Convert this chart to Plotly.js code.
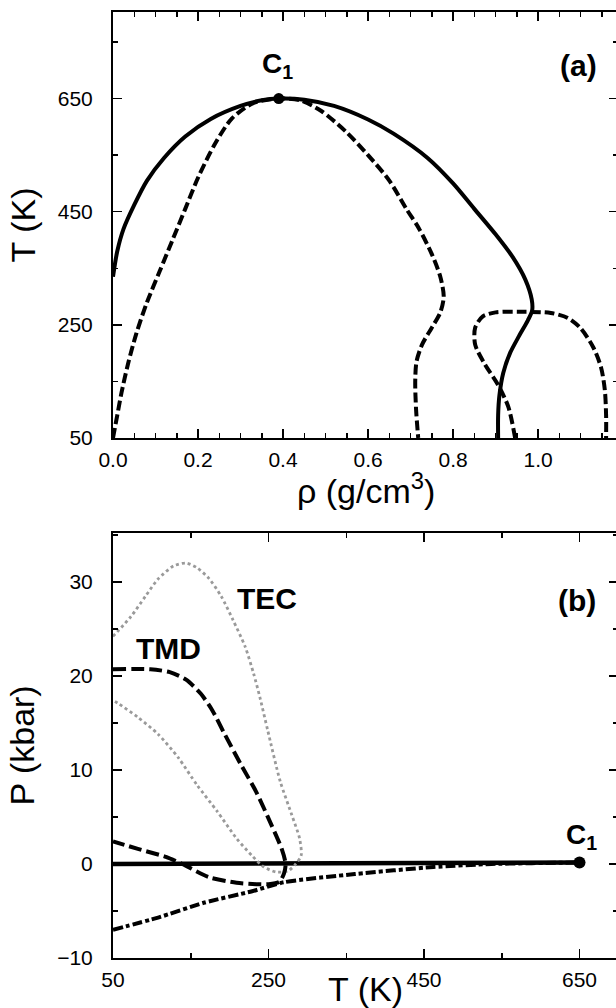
<!DOCTYPE html>
<html>
<head>
<meta charset="utf-8">
<script src="https://cdn.plot.ly/plotly-3.0.1.min.js"></script>
<style>
html,body{margin:0;padding:0;overflow:hidden;background:#fff;}
#chart{width:622px;height:1008px;}
</style>
</head>
<body>
<div id="chart"></div>
<script>
// ---------- Panel (a): T vs density ----------
const coexRho = [0, 0.01, 0.025, 0.05, 0.08, 0.12, 0.17, 0.23, 0.3, 0.35, 0.39, 0.45, 0.52, 0.6, 0.66, 0.74, 0.8, 0.85, 0.9, 0.94, 0.97, 0.985, 0.986, 0.976, 0.955, 0.934, 0.918, 0.909, 0.906, 0.906];
const coexT   = [335, 380, 420, 462, 505, 545, 583, 614, 637, 647, 650, 648, 637, 613, 588, 545, 500, 455, 410, 370, 330, 295, 275, 258, 230, 200, 165, 125, 90, 50];

const spinRho = [0, 0.01, 0.02, 0.035, 0.055, 0.08, 0.11, 0.14, 0.17, 0.2, 0.24, 0.28, 0.33, 0.39, 0.44, 0.49, 0.55, 0.6, 0.65, 0.69, 0.72, 0.75, 0.77, 0.778, 0.77, 0.75, 0.727, 0.714, 0.711, 0.713, 0.718];
const spinT   = [50, 90, 130, 180, 235, 290, 345, 400, 455, 510, 570, 615, 642, 650, 647, 628, 590, 550, 505, 455, 420, 375, 335, 300, 272, 245, 215, 185, 150, 100, 50];

const loopRho = [0.946, 0.93, 0.905, 0.875, 0.852, 0.852, 0.87, 0.9, 0.96, 1.03, 1.07, 1.1, 1.13, 1.148, 1.157, 1.16, 1.16];
const loopT   = [50, 105, 145, 180, 215, 245, 265, 272, 273, 271, 262, 244, 210, 175, 135, 90, 50];

const critRho = [0.39];
const critT   = [650];

// ---------- Panel (b): P vs T ----------
const tmdT = [50, 98, 123, 144, 163, 178, 193, 215, 234, 254, 267, 272, 270, 264, 250, 234, 209, 173, 139, 118, 82, 50];
const tmdP = [20.7, 20.7, 20.4, 19.6, 18.1, 16.3, 13.9, 10.5, 7.7, 4.1, 1.6, 0, -1.0, -1.9, -2.15, -2.15, -2.0, -1.4, 0, 0.75, 1.6, 2.4];

const tecT = [50, 73, 92, 108, 128, 144, 158, 173, 189, 204, 220, 231, 239, 249, 265, 280, 290, 292, 285, 275, 260, 244, 229, 209, 184, 158, 134, 108, 82, 58, 50];
const tecP = [24.2, 26.3, 28.5, 30.3, 31.7, 32.0, 31.5, 30.4, 28.5, 26.0, 23.1, 20.2, 17.7, 14.2, 8.8, 5.2, 2.7, 0.9, 0, -0.75, -0.86, -0.32, 0.86, 2.7, 5.6, 8.4, 11.3, 13.8, 15.6, 17.0, 17.4];

const lspT = [50, 108, 168, 229, 270, 361, 462, 537, 644, 650];
const lspP = [-7.0, -5.7, -4.1, -2.9, -1.94, -1.07, -0.32, 0, 0.15, 0.15];

const coexBT = [50, 250, 450, 650];
const coexBP = [0, 0.05, 0.1, 0.15];

const critBT = [650];
const critBP = [0.15];

// tick labels
const rhoTicks = [0, 0.2, 0.4, 0.6, 0.8, 1.0];
const tTicksA = [50, 250, 450, 650];
const tTicksB = [50, 250, 450, 650];
const pTicks = [-10, 0, 10, 20, 30];

const blk = '#000';
const FF = 'Liberation Sans, Arial, Helvetica, sans-serif';
const traces = [
  {x: coexRho, y: coexT, xaxis:'x', yaxis:'y', mode:'lines', line:{color:blk, width:4, shape:'spline', smoothing:0.8}},
  {x: spinRho, y: spinT, xaxis:'x', yaxis:'y', mode:'lines', line:{color:blk, width:4, dash:'10px,4px', shape:'spline', smoothing:0.8}},
  {x: loopRho, y: loopT, xaxis:'x', yaxis:'y', mode:'lines', line:{color:blk, width:4, dash:'10px,4px', shape:'spline', smoothing:0.8}},
  {x: critRho, y: critT, xaxis:'x', yaxis:'y', mode:'markers', marker:{color:blk, size:11}},

  {x: coexBT, y: coexBP, xaxis:'x2', yaxis:'y2', mode:'lines', line:{color:blk, width:4.5}},
  {x: tecT, y: tecP, xaxis:'x2', yaxis:'y2', mode:'lines', line:{color:'#9a9a9a', width:2.8, dash:'dot', shape:'spline', smoothing:0.7}},
  {x: tmdT, y: tmdP, xaxis:'x2', yaxis:'y2', mode:'lines', line:{color:blk, width:4, dash:'13px,5px', shape:'spline', smoothing:0.7}},
  {x: lspT, y: lspP, xaxis:'x2', yaxis:'y2', mode:'lines', line:{color:blk, width:4, dash:'10px,3px,4px,3px', shape:'spline', smoothing:0.6}},
  {x: critBT, y: critBP, xaxis:'x2', yaxis:'y2', mode:'markers', marker:{color:blk, size:12}}
];

const tickFont = {family:FF, size:21, color:blk};
const titleFont = {family:FF, size:34, color:blk};
const axCommon = {
  showline:true, linecolor:blk, linewidth:2, mirror:'ticks', ticks:'inside',
  ticklen:9, tickwidth:1.5, tickcolor:blk, showgrid:false, zeroline:false,
  tickfont:tickFont, automargin:false
};

const layout = {
  width:622, height:1008,
  margin:{l:113, r:4, t:12, b:50},
  paper_bgcolor:'#fff', plot_bgcolor:'#fff',
  showlegend:false,
  xaxis: Object.assign({}, axCommon, {
    domain:[0,1], anchor:'y', range:[0, 1.188],
    tickmode:'array', tickvals:rhoTicks, ticktext:rhoTicks.map(v=>v.toFixed(1)),
    minor:{dtick:0.05, tick0:0, ticks:'inside', ticklen:5, tickwidth:1.5, tickcolor:blk},
    ticklabelstandoff:2
  }),
  yaxis: Object.assign({}, axCommon, {
    domain:[0.5497,1], anchor:'x', range:[50, 803],
    tickmode:'array', tickvals:tTicksA,
    minor:{dtick:100, tick0:50, ticks:'inside', ticklen:5, tickwidth:1.5, tickcolor:blk},
    ticklabelstandoff:14,
    title:{text:'T (K)', font:titleFont, standoff:12}
  }),
  xaxis2: Object.assign({}, axCommon, {
    domain:[0,1], anchor:'y2', range:[50, 699.5],
    tickmode:'array', tickvals:tTicksB,
    minor:{dtick:100, tick0:50, ticks:'inside', ticklen:5, tickwidth:1.5, tickcolor:blk},
    ticklabelstandoff:2,
    title:{text:'T (K)', font:titleFont, standoff:0}
  }),
  yaxis2: Object.assign({}, axCommon, {
    domain:[0,0.4493], anchor:'x2', range:[-10, 35.2],
    tickmode:'array', tickvals:pTicks,
    minor:{dtick:5, tick0:0, ticks:'inside', ticklen:5, tickwidth:1.5, tickcolor:blk},
    ticklabelstandoff:14,
    title:{text:'P (kbar)', font:titleFont, standoff:12}
  }),
  annotations:[
    {xref:'x domain', yref:'paper', x:0.5, y:0.4958, xanchor:'center', yanchor:'middle', text:'\u03C1 (g/cm<sup>3</sup>)', showarrow:false, font:titleFont},
    {xref:'x', yref:'y', x:0.386, y:650, yshift:33, text:'<b>C<sub>1</sub></b>', showarrow:false, font:{family:FF, size:28, color:blk}},
    {xref:'x', yref:'y', x:1.094, y:709, text:'<b>(a)</b>', showarrow:false, font:{family:FF, size:30, color:blk}},
    {xref:'x2', yref:'y2', x:248, y:28.2, text:'<b>TEC</b>', showarrow:false, font:{family:FF, size:30, color:blk}},
    {xref:'x2', yref:'y2', x:122, y:22.9, text:'<b>TMD</b>', showarrow:false, font:{family:FF, size:30, color:blk}},
    {xref:'x2', yref:'y2', x:647, y:28.0, text:'<b>(b)</b>', showarrow:false, font:{family:FF, size:30, color:blk}},
    {xref:'x2', yref:'y2', x:652, y:0.15, yshift:26, text:'<b>C<sub>1</sub></b>', showarrow:false, font:{family:FF, size:28, color:blk}}
  ]
};

Plotly.newPlot('chart', traces, layout, {displayModeBar:false, staticPlot:true});
</script>
</body>
</html>
